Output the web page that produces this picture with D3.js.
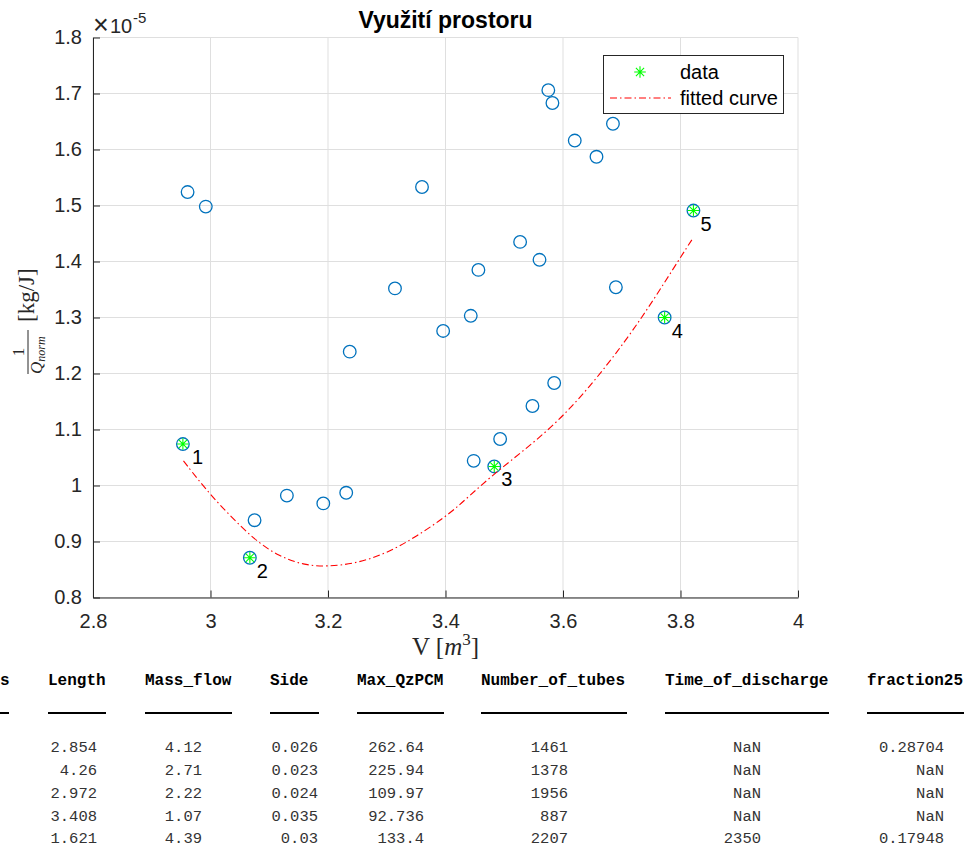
<!DOCTYPE html>
<html>
<head>
<meta charset="utf-8">
<script src="https://cdn.jsdelivr.net/npm/d3@7"></script>
<style>
  html, body { margin: 0; padding: 0; background: #ffffff; }
  svg { display: block; }
</style>
</head>
<body>
<script>
// ---- data -------------------------------------------------------------
// all evaluated configurations: volume V [m^3] and 1/Q_norm [kg/J] (×1e-5)
const volumes = [2.961, 2.992, 3.360, 3.314, 3.237, 3.396, 3.575, 3.582, 3.685, 3.620,
                 3.657, 3.527, 3.560, 3.456, 3.690, 3.443, 3.585, 3.548, 3.493, 3.448,
                 3.075, 3.130, 3.192, 3.231,
                 2.953, 3.067, 3.483, 3.773, 3.822];
const invQ = [1.524, 1.498, 1.533, 1.352, 1.239, 1.276, 1.706, 1.683, 1.646, 1.616,
              1.587, 1.435, 1.403, 1.385, 1.354, 1.303, 1.183, 1.142, 1.083, 1.044,
              0.938, 0.982, 0.968, 0.987,
              1.074, 0.871, 1.034, 1.300, 1.491];

// the five points picked for the fit
const selVolumes = [2.953, 3.067, 3.483, 3.773, 3.822];
const selInvQ = [1.074, 0.871, 1.034, 1.300, 1.491];
const selLabels = ['1', '2', '3', '4', '5'];

// fitted curve, sampled
const fitVolumes = [2.954, 2.999, 3.073, 3.118, 3.158, 3.198, 3.249, 3.300, 3.351,
                    3.408, 3.439, 3.487, 3.578, 3.646, 3.708, 3.754, 3.799, 3.822];
const fitInvQ = [1.044, 0.983, 0.903, 0.873, 0.858, 0.855, 0.861, 0.879, 0.909,
                 0.950, 0.980, 1.025, 1.099, 1.176, 1.260, 1.331, 1.406, 1.443];

const xTicks = [2.8, 3.0, 3.2, 3.4, 3.6, 3.8, 4.0];
const xTickLabels = ['2.8', '3', '3.2', '3.4', '3.6', '3.8', '4'];
const yTicks = [0.8, 0.9, 1.0, 1.1, 1.2, 1.3, 1.4, 1.5, 1.6, 1.7, 1.8];
const yTickLabels = ['0.8', '0.9', '1', '1.1', '1.2', '1.3', '1.4', '1.5', '1.6', '1.7', '1.8'];

// table of the selected configurations
const tableHeaders = ['s', 'Length', 'Mass_flow', 'Side', 'Max_QzPCM', 'Number_of_tubes', 'Time_of_discharge', 'fraction25'];
const colLength = [2.854, 4.26, 2.972, 3.408, 1.621];
const colMassFlow = [4.12, 2.71, 2.22, 1.07, 4.39];
const colSide = [0.026, 0.023, 0.024, 0.035, 0.03];
const colMaxQz = [262.64, 225.94, 109.97, 92.736, 133.4];
const colTubes = [1461, 1378, 1956, 887, 2207];
const colDischarge = [NaN, NaN, NaN, NaN, 2350];
const colFraction = [0.28704, NaN, NaN, NaN, 0.17948];

// ---- figure -----------------------------------------------------------
const W = 968, H = 850;
const svg = d3.select('body').append('svg').attr('width', W).attr('height', H);
svg.append('rect').attr('width', W).attr('height', H).attr('fill', '#ffffff');

const x = d3.scaleLinear().domain([2.8, 4.0]).range([93, 798]);
const y = d3.scaleLinear().domain([0.8, 1.8]).range([597.5, 37.5]);
const axisColor = '#262626';
const sans = '"Liberation Sans", Arial, Helvetica, sans-serif';
const serif = '"Liberation Serif", "Times New Roman", serif';
const mono = '"Liberation Mono", "Courier New", monospace';

// grid
const grid = svg.append('g');
grid.selectAll('line.gx').data(xTicks).join('line')
  .attr('x1', d => x(d)).attr('x2', d => x(d))
  .attr('y1', y.range()[0]).attr('y2', y.range()[1])
  .attr('stroke', '#dfdfdf').attr('stroke-width', 1);
grid.selectAll('line.gy').data(yTicks).join('line')
  .attr('y1', d => y(d)).attr('y2', d => y(d))
  .attr('x1', x.range()[0]).attr('x2', x.range()[1])
  .attr('stroke', '#dfdfdf').attr('stroke-width', 1);

// axes (ticks point inward)
const xAxis = d3.axisBottom(x).tickValues(xTicks)
  .tickFormat((d, i) => xTickLabels[i]).tickSizeInner(-7).tickSizeOuter(0).tickPadding(16);
const yAxis = d3.axisLeft(y).tickValues(yTicks)
  .tickFormat((d, i) => yTickLabels[i]).tickSizeInner(-7).tickSizeOuter(0).tickPadding(11);

function styleAxis(g) {
  g.select('.domain').attr('stroke', axisColor).attr('stroke-width', 1);
  g.selectAll('.tick line').attr('stroke', axisColor).attr('stroke-width', 1);
  g.selectAll('.tick text').attr('fill', axisColor)
    .style('font-family', sans).style('font-size', '20px');
}
svg.append('g').attr('transform', `translate(0,${y.range()[0]})`).call(xAxis).call(styleAxis);
svg.append('g').attr('transform', `translate(${x.range()[0]},0)`).call(yAxis).call(styleAxis);

// exponent marker
svg.append('text').attr('x', 93).attr('y', 34)
  .style('font-family', sans).style('font-size', '27px')
  .attr('fill', axisColor).text('\u00d7');
svg.append('text').attr('x', 110).attr('y', 33)
  .style('font-family', sans).style('font-size', '20px')
  .attr('fill', axisColor).text('10');
svg.append('text').attr('x', 133).attr('y', 23)
  .style('font-family', sans).style('font-size', '15px')
  .attr('fill', axisColor).text('-5');

// title
svg.append('text').attr('x', (x.range()[0] + x.range()[1]) / 2).attr('y', 28)
  .attr('text-anchor', 'middle')
  .style('font-family', sans).style('font-size', '23px').style('font-weight', 'bold')
  .attr('fill', '#000').text('Využití prostoru');

// x label: V [m^3]
const xl = svg.append('text').attr('x', (x.range()[0] + x.range()[1]) / 2).attr('y', 655)
  .attr('text-anchor', 'middle').style('font-family', serif).style('font-size', '25px')
  .attr('fill', axisColor);
xl.append('tspan').text('V [');
xl.append('tspan').style('font-style', 'italic').text('m');
xl.append('tspan').attr('dy', -10).style('font-size', '17px').text('3');
xl.append('tspan').attr('dy', 10).text(']');

// y label: 1/Q_norm [kg/J], rotated
const yl = svg.append('g').attr('transform', 'translate(34,374) rotate(-90)');
yl.append('line').attr('x1', 0).attr('x2', 44).attr('y1', -6).attr('y2', -6)
  .attr('stroke', axisColor).attr('stroke-width', 1);
yl.append('text').attr('x', 22).attr('y', -10).attr('text-anchor', 'middle')
  .style('font-family', serif).style('font-size', '17px').attr('fill', axisColor).text('1');
const den = yl.append('text').attr('x', 0).attr('y', 8)
  .style('font-family', serif).style('font-size', '17px').style('font-style', 'italic')
  .attr('fill', axisColor);
den.append('tspan').text('Q');
den.append('tspan').attr('dy', 3).style('font-size', '12px').text('norm');
yl.append('text').attr('x', 52).attr('y', 0)
  .style('font-family', serif).style('font-size', '23px').attr('fill', axisColor).text('[kg/J]');

// ---- marks ------------------------------------------------------------
const blue = '#0072BD';
const green = '#00FF00';
const red = '#FF0000';

svg.append('g').selectAll('circle').data(d3.range(volumes.length)).join('circle')
  .attr('cx', i => x(volumes[i])).attr('cy', i => y(invQ[i])).attr('r', 6.3)
  .attr('fill', 'none').attr('stroke', blue).attr('stroke-width', 1.3);

function asterisk(r) {
  const d = r * Math.SQRT1_2;
  return `M${-r},0L${r},0M0,${-r}L0,${r}M${-d},${-d}L${d},${d}M${-d},${d}L${d},${-d}`;
}

const fitLine = d3.line()
  .x(d => x(d[0])).y(d => y(d[1]))
  .curve(d3.curveBasis);
svg.append('path').datum(d3.zip(fitVolumes, fitInvQ))
  .attr('d', fitLine).attr('fill', 'none')
  .attr('stroke', red).attr('stroke-width', 1.1)
  .attr('stroke-dasharray', '7,3,1.5,3');

svg.append('g').selectAll('path').data(d3.range(selVolumes.length)).join('path')
  .attr('transform', i => `translate(${x(selVolumes[i])},${y(selInvQ[i])})`)
  .attr('d', asterisk(5.8)).attr('fill', 'none').attr('stroke', green).attr('stroke-width', 1.1);

svg.append('g').selectAll('text').data(d3.range(selVolumes.length)).join('text')
  .attr('x', i => x(selVolumes[i]) + (i === 0 ? 9 : 7))
  .attr('y', i => y(selInvQ[i]) + 20)
  .style('font-family', sans).style('font-size', '20px').attr('fill', '#000')
  .text(i => selLabels[i]);

// legend
const lg = svg.append('g');
lg.append('rect').attr('x', 603.5).attr('y', 55.5).attr('width', 180).attr('height', 58)
  .attr('fill', '#fff').attr('stroke', axisColor).attr('stroke-width', 1);
lg.append('path').attr('transform', 'translate(640,72)').attr('d', asterisk(5.8))
  .attr('fill', 'none').attr('stroke', green).attr('stroke-width', 1.1);
lg.append('line').attr('x1', 610).attr('x2', 671).attr('y1', 98).attr('y2', 98)
  .attr('stroke', red).attr('stroke-width', 1.1).attr('stroke-dasharray', '7,3,1.5,3');
lg.append('text').attr('x', 680).attr('y', 79)
  .style('font-family', sans).style('font-size', '20px').attr('fill', '#000').text('data');
lg.append('text').attr('x', 680).attr('y', 105)
  .style('font-family', sans).style('font-size', '20px').attr('fill', '#000').text('fitted curve');

// ---- table ------------------------------------------------------------
const headerX = [0, 48, 145, 270, 357, 481, 665, 867];
const underline = [[0, 9], [48, 106], [145, 232], [270, 319], [357, 444], [481, 627], [665, 829], [867, 964]];
const colRight = [null, 97, 202, 318, 424, 568, 761, 944];
const columns = [null, colLength, colMassFlow, colSide, colMaxQz, colTubes, colDischarge, colFraction];
const rowY = [752, 775, 798, 820.5, 843];

const tb = svg.append('g');
tb.selectAll('text.h').data(tableHeaders).join('text')
  .attr('x', (d, i) => headerX[i]).attr('y', 685)
  .style('font-family', mono).style('font-size', '16px').style('font-weight', 'bold')
  .attr('fill', '#000').text(d => d);
tb.selectAll('line.u').data(underline).join('line')
  .attr('x1', d => d[0]).attr('x2', d => d[1]).attr('y1', 713).attr('y2', 713)
  .attr('stroke', '#000').attr('stroke-width', 2);

columns.forEach((col, c) => {
  if (!col) return;
  tb.append('g').selectAll('text').data(col).join('text')
    .attr('x', colRight[c]).attr('y', (d, r) => rowY[r]).attr('text-anchor', 'end')
    .style('font-family', mono).style('font-size', '15.5px')
    .attr('fill', '#333').text(d => String(d));
});
</script>
</body>
</html>
